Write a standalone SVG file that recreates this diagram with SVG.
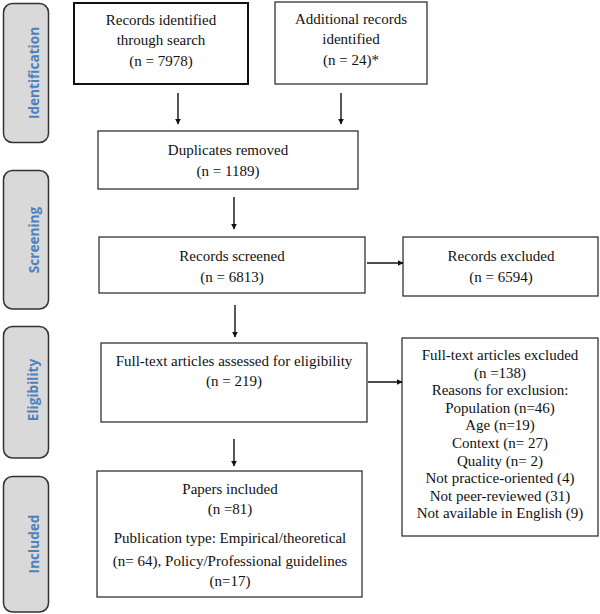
<svg xmlns="http://www.w3.org/2000/svg" width="600" height="614" viewBox="0 0 600 614">
<style>
.side{fill:#d9d9d9;stroke:#333;stroke-width:1.5}
.sl{font-size:13.6px;fill:#4f81bd;text-anchor:middle}
.box{fill:#fff;stroke:#333;stroke-width:1.3}
.t{font-size:15px;fill:#111;text-anchor:middle}
.c{stroke:#111;stroke-width:1.4;fill:none}
</style>
<defs>
<marker id="ah" viewBox="0 0 10 10" refX="9" refY="5" markerWidth="6" markerHeight="6" markerUnits="userSpaceOnUse" orient="auto">
<path d="M0,0 L10,5 L0,10 z" fill="#111"/>
</marker>
</defs>
<rect width="600" height="614" fill="#fff"/>
<g font-family="Open Sans, Liberation Sans, sans-serif" font-weight="bold">
<g id="stage-identification">
<rect class="side" x="3.5" y="3.5" width="45" height="139" rx="9"/>
<text class="sl" transform="translate(38.5,73) rotate(-90)">Identification</text>
</g>
<g id="stage-screening">
<rect class="side" x="3.5" y="170.5" width="45" height="138.5" rx="9"/>
<text class="sl" transform="translate(38.5,240) rotate(-90)">Screening</text>
</g>
<g id="stage-eligibility">
<rect class="side" x="3.5" y="326.5" width="45" height="131.5" rx="9"/>
<text class="sl" transform="translate(37.5,390) rotate(-90)">Eligibility</text>
</g>
<g id="stage-included">
<rect class="side" x="3.5" y="476.5" width="45" height="135.5" rx="9"/>
<text class="sl" transform="translate(38.5,544) rotate(-90)">Included</text>
</g>
</g>
<g font-family="Liberation Serif, Times New Roman, serif">
<g id="records-search">
<rect class="box" x="74" y="3" width="174" height="81" style="stroke-width:2;stroke:#111"/>
<text class="t" x="161" y="25">Records identified</text>
<text class="t" x="161" y="45">through search</text>
<text class="t" x="161" y="66">(n = 7978)</text>
</g>
<g id="additional-records">
<rect class="box" x="275" y="2" width="152" height="82"/>
<text class="t" x="351" y="24">Additional records</text>
<text class="t" x="351" y="44">identified</text>
<text class="t" x="351" y="65">(n = 24)*</text>
</g>
<g id="duplicates-removed">
<rect class="box" x="98" y="131" width="260" height="58"/>
<text class="t" x="228" y="155">Duplicates removed</text>
<text class="t" x="228" y="176">(n = 1189)</text>
</g>
<g id="records-screened">
<rect class="box" x="99" y="237" width="266" height="56"/>
<text class="t" x="232" y="261">Records screened</text>
<text class="t" x="232" y="282">(n = 6813)</text>
</g>
<g id="records-excluded">
<rect class="box" x="403" y="237" width="195" height="59"/>
<text class="t" x="501" y="261">Records excluded</text>
<text class="t" x="501" y="282">(n = 6594)</text>
</g>
<g id="fulltext-assessed">
<rect class="box" x="101" y="343" width="266" height="79"/>
<text class="t" x="234" y="366">Full-text articles assessed for eligibility</text>
<text class="t" x="234" y="386">(n = 219)</text>
</g>
<g id="fulltext-excluded">
<rect class="box" x="402" y="338" width="196" height="198"/>
<text class="t" x="500" y="360">Full-text articles excluded</text>
<text class="t" x="500" y="377.6">(n =138)</text>
<text class="t" x="500" y="395.2">Reasons for exclusion:</text>
<text class="t" x="500" y="412.8">Population (n=46)</text>
<text class="t" x="500" y="430.4">Age (n=19)</text>
<text class="t" x="500" y="448">Context (n= 27)</text>
<text class="t" x="500" y="465.6">Quality (n= 2)</text>
<text class="t" x="500" y="483.2">Not practice-oriented (4)</text>
<text class="t" x="500" y="500.8">Not peer-reviewed (31)</text>
<text class="t" x="500" y="518.4">Not available in English (9)</text>
</g>
<g id="papers-included">
<rect class="box" x="97" y="471" width="265" height="126"/>
<text class="t" x="230" y="494">Papers included</text>
<text class="t" x="230" y="514">(n =81)</text>
<text class="t" x="230" y="543">Publication type: Empirical/theoretical</text>
<text class="t" x="230" y="566">(n= 64), Policy/Professional guidelines</text>
<text class="t" x="230" y="586">(n=17)</text>
</g>
</g>
<g id="connectors">
<line class="c" x1="178" y1="93" x2="178" y2="124" marker-end="url(#ah)"/>
<line class="c" x1="341" y1="93" x2="341" y2="124" marker-end="url(#ah)"/>
<line class="c" x1="234" y1="197" x2="234" y2="229" marker-end="url(#ah)"/>
<line class="c" x1="367" y1="263" x2="403" y2="263" marker-end="url(#ah)"/>
<line class="c" x1="235" y1="305" x2="235" y2="337" marker-end="url(#ah)"/>
<line class="c" x1="368" y1="382" x2="402" y2="382" marker-end="url(#ah)"/>
<line class="c" x1="234" y1="439" x2="234" y2="466" marker-end="url(#ah)"/>
</g>
</svg>
